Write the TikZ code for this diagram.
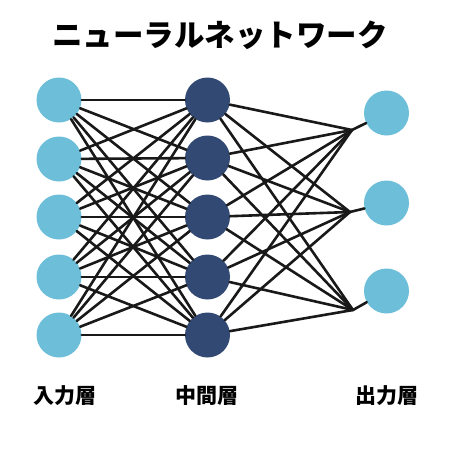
\documentclass[tikz,border=0pt]{standalone}
\usepackage{fontspec}
\newfontfamily\jp{Noto Sans CJK JP}
\definecolor{inblue}{RGB}{108,190,217}
\definecolor{hidblue}{RGB}{50,74,115}

\begin{document}
\begin{tikzpicture}[x=1pt, y=-1pt,
		neuron/.style={circle, minimum size=45pt, inner sep=0pt},
		link/.style={line width=2.6pt, line cap=round, black!90},
		layer/.style={font=\jp\bfseries\fontsize{21}{21}\selectfont}]
		\useasboundingbox (0,0) rectangle (456,456);
		\node[font=\jp\bfseries\fontsize{30.5}{30.5}\selectfont] (title) at (220,35) {ニューラルネットワーク};
		% neurons
		\foreach \i/\y in {1/100,2/159,3/217,4/277,5/335} \node[neuron, fill=inblue] (in\i) at (59,\y) {};
		\foreach \i/\y in {1/100,2/158,3/217,4/277,5/335} \node[neuron, fill=hidblue] (hid\i) at (207.5,\y) {};
		\foreach \k/\y in {1/113,2/203,3/291} \node[neuron, fill=inblue] (out\k) at (386.5,\y) {};
		\coordinate (j1) at (352,130);
		\coordinate (j2) at (350,212);
		\coordinate (j3) at (353,310);
		% links
		\foreach \i in {1,...,5} \foreach \j in {1,...,5} \draw[link] (in\i) -- (hid\j);
		\foreach \i in {1,...,5} \foreach \k in {1,2,3} \draw[link] (hid\i) -- (j\k);
		\foreach \k in {1,2,3} \draw[link] (j\k) -- (out\k);
		% layer names
		\node[layer] (inname) at (65,396) {入力層};
		\node[layer] (hidname) at (207,396) {中間層};
		\node[layer] (outname) at (387,396) {出力層};
	\end{tikzpicture}
\end{document}
